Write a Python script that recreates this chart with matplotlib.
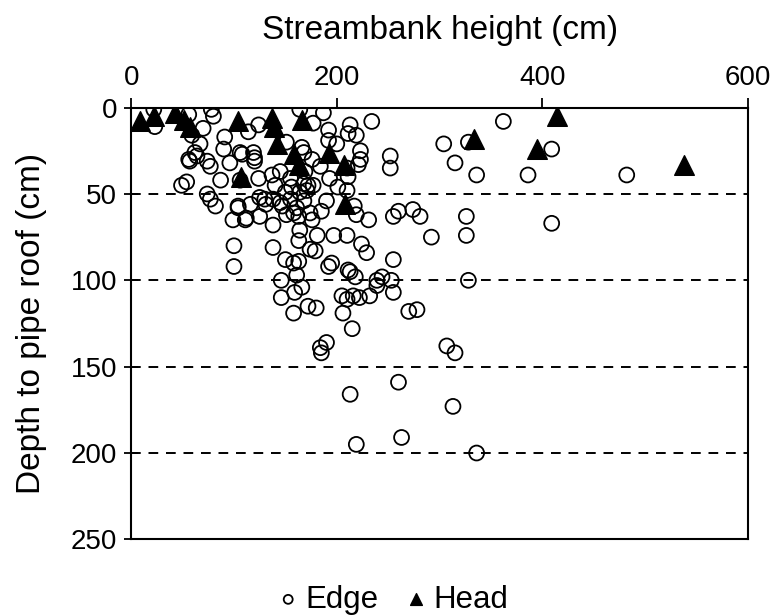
import matplotlib.pyplot as plt
import numpy as np

plt.rcParams['font.family'] = ['Liberation Sans', 'DejaVu Sans']

# Edge points (streambank height, depth to pipe roof), cm
edge_x = [22, 23, 78, 80, 56, 70, 59, 67, 91, 90, 62, 64, 56, 57, 74, 77, 96, 108,
          87, 54, 49, 74, 77, 82, 104, 106, 164, 187, 177, 124, 114, 192, 151, 200,
          211, 106, 119, 120, 120, 166, 168, 176, 184, 169, 137, 124, 145, 193, 201,
          210, 140, 155, 156, 150, 164, 172, 125, 130, 138, 145, 155, 168, 190, 112,
          125, 138, 116, 131, 147, 151, 158, 163, 161, 174, 176, 185, 164, 181, 197,
          210, 138, 163, 174, 179, 150, 158, 163, 192, 195, 211, 146, 161, 166, 159,
          146, 172, 205, 210, 100, 100, 99, 111, 104, 158, 180, 190, 184, 224, 229,
          213, 218, 216, 222, 232, 206, 215, 239, 231, 219, 217, 255, 260, 274, 281,
          292, 326, 326, 255, 244, 239, 253, 255, 270, 278, 328, 185, 307, 315, 260,
          213, 313, 263, 219, 336, 234, 362, 304, 328, 409, 315, 336, 386, 482, 252,
          252, 213, 192, 219, 223, 223, 221, 211, 210, 409, 177, 168, 171]
edge_y = [1, 11, 1, 5, 4, 12, 16, 21, 17, 24, 26, 28, 30, 31, 31, 34, 32, 27,
          42, 43, 45, 50, 53, 57, 57, 42, 1, 3, 9, 10, 14, 19, 20, 21,
          15, 26, 26, 29, 31, 23, 26, 30, 34, 37, 39, 41, 37, 41, 46,
          48, 45, 41, 46, 49, 49, 45, 52, 53, 53, 55, 53, 54, 54, 64,
          63, 68, 56, 56, 57, 62, 61, 63, 58, 61, 65, 60, 71, 74, 74,
          74, 81, 77, 82, 83, 88, 90, 89, 92, 90, 94, 100, 97, 104, 107,
          110, 115, 109, 111, 80, 92, 65, 65, 58, 119, 116, 136, 139, 79, 84,
          95, 98, 109, 110, 109, 119, 128, 100, 65, 62, 57, 63, 60, 59, 63,
          75, 63, 74, 88, 98, 103, 100, 107, 118, 117, 100, 142, 138, 142, 159,
          166, 173, 191, 195, 200, 8, 8, 21, 20, 24, 32, 39, 39, 39, 28,
          35, 10, 13, 16, 25, 30, 33, 40, 35, 67, 45, 44, 48]

# Head points
head_x = [9, 22, 43, 51, 57, 104, 107, 137, 139, 142, 166, 158, 163, 192, 207, 208,
          333, 395, 414, 538]
head_y = [8, 5, 3, 7, 11, 8, 40, 6, 11, 21, 7, 27, 33, 26, 33, 56,
          18, 24, 5, 33]

fig = plt.figure(figsize=(7.76, 6.15), dpi=100)
ax = fig.add_axes([0.169, 0.123, 0.795, 0.702])

for yv in [50, 100, 150, 200]:
    ax.axhline(yv, color='black', lw=1.4, ls=(0, (5, 4)), zorder=1)

ax.scatter(edge_x, edge_y, s=115, facecolors='none', edgecolors='black',
           linewidths=1.3, marker='o', label='Edge', zorder=3)
ax.scatter(head_x, head_y, s=200, color='black', marker='^', label='Head', zorder=4)

ax.set_xlim(0, 600)
ax.set_ylim(250, 0)
ax.set_xticks(np.arange(0, 601, 200))
ax.set_yticks(np.arange(0, 251, 50))
ax.xaxis.tick_top()
ax.xaxis.set_label_position('top')
ax.tick_params(axis='x', direction='out', length=7, width=1.3, labelsize=20, pad=5)
ax.tick_params(axis='y', direction='inout', length=10, width=1.3, labelsize=20, pad=5)
for sp in ax.spines.values():
    sp.set_linewidth(1.5)

ax.set_xlabel('Streambank height (cm)', fontsize=24, labelpad=19)
ax.set_ylabel('Depth to pipe roof (cm)', fontsize=24, labelpad=17)

fig.legend(loc='lower center', bbox_to_anchor=(0.503, -0.045), ncol=2, frameon=False,
           fontsize=22.5, markerscale=0.6, handletextpad=0.05, columnspacing=0.7,
           handlelength=1.0)

fig.savefig('out.png', dpi=100)
